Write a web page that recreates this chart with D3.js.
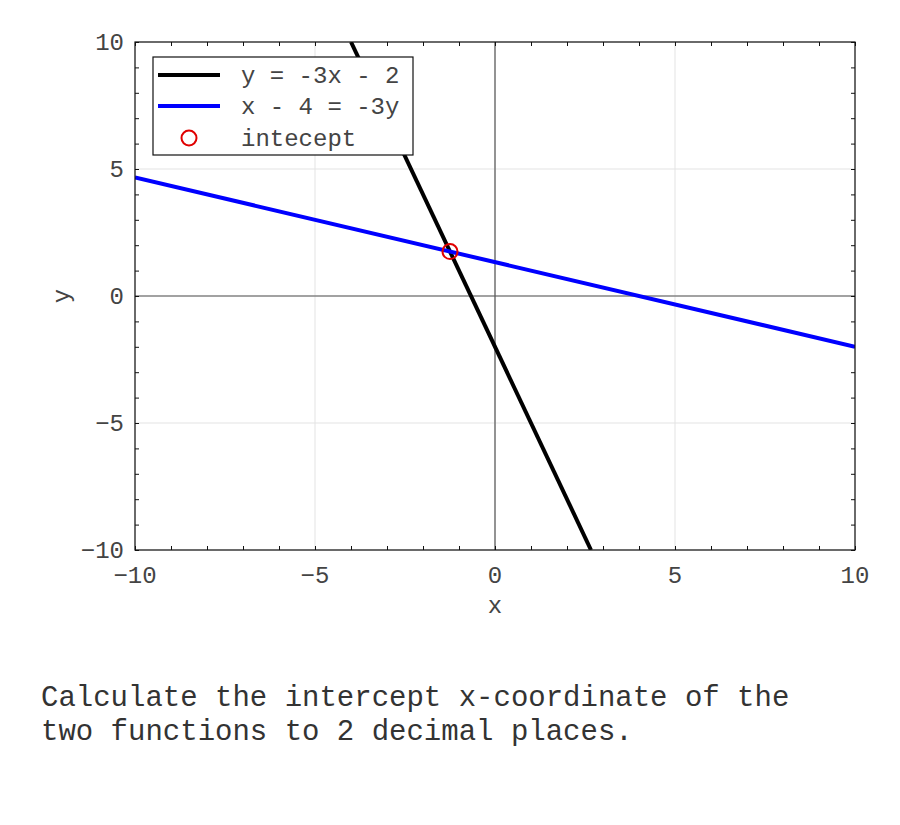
<!DOCTYPE html>
<html><head><meta charset="utf-8">
<script src="https://cdn.jsdelivr.net/npm/d3@7"></script>
<style>body{margin:0;background:#fff}svg{display:block}</style>
</head><body>
<script>
const blackX = [-4, 2.6667];
const blackY = [10, -10];
const blueX = [-10, 10];
const blueY = [4.6667, -2];
const interceptX = [-1.25];
const interceptY = [1.75];
const majorTicks = [-10, -5, 0, 5, 10];
const minorTicks = d3.range(-10, 11, 1);
const legendLabels = ["y = -3x - 2", "x - 4 = -3y", "intecept"];
const questionLines = ["Calculate the intercept x-coordinate of the", "two functions to 2 decimal places."];

const W = 900, H = 825;
const m = {l: 135, r: 855, t: 42, b: 550};
const font = "'Liberation Mono','Courier New',monospace";
const txt = "#444";
const svg = d3.select("body").append("svg").attr("width", W).attr("height", H);
const x = d3.scaleLinear().domain([-10, 10]).range([m.l, m.r]);
const y = d3.scaleLinear().domain([-10, 10]).range([m.b, m.t]);

// grid
svg.append("g").selectAll("line").data(majorTicks).join("line")
  .attr("x1", d => x(d)).attr("x2", d => x(d)).attr("y1", m.t).attr("y2", m.b)
  .attr("stroke", "#e3e3e3").attr("stroke-width", 1);
svg.append("g").selectAll("line").data(majorTicks).join("line")
  .attr("y1", d => y(d)).attr("y2", d => y(d)).attr("x1", m.l).attr("x2", m.r)
  .attr("stroke", "#e3e3e3").attr("stroke-width", 1);

// zero axes
svg.append("line").attr("x1", x(0)).attr("x2", x(0)).attr("y1", m.t).attr("y2", m.b)
  .attr("stroke", "#555").attr("stroke-width", 1.2);
svg.append("line").attr("y1", y(0)).attr("y2", y(0)).attr("x1", m.l).attr("x2", m.r)
  .attr("stroke", "#555").attr("stroke-width", 1.2);

// axes with inward ticks
const tl = 4;
svg.append("g").attr("transform", `translate(0,${m.b})`)
  .call(d3.axisBottom(x).tickValues(minorTicks).tickSize(-tl).tickFormat(""))
  .call(g => g.select(".domain").remove());
svg.append("g").attr("transform", `translate(0,${m.t})`)
  .call(d3.axisTop(x).tickValues(minorTicks).tickSize(-tl).tickFormat(""))
  .call(g => g.select(".domain").remove());
svg.append("g").attr("transform", `translate(${m.l},0)`)
  .call(d3.axisLeft(y).tickValues(minorTicks).tickSize(-tl).tickFormat(""))
  .call(g => g.select(".domain").remove());
svg.append("g").attr("transform", `translate(${m.r},0)`)
  .call(d3.axisRight(y).tickValues(minorTicks).tickSize(-tl).tickFormat(""))
  .call(g => g.select(".domain").remove());
svg.selectAll(".tick line").attr("stroke", "#111").attr("stroke-width", 1);

// tick labels
const fmt = d => d < 0 ? "\u2212" + Math.abs(d) : String(d);
svg.append("g").selectAll("text").data(majorTicks).join("text")
  .attr("x", d => x(d)).attr("y", 583).attr("text-anchor", "middle")
  .attr("font-family", font).attr("font-size", 24).attr("fill", txt)
  .text(fmt);
svg.append("g").selectAll("text").data(majorTicks).join("text")
  .attr("x", 124).attr("y", d => y(d) + 8).attr("text-anchor", "end")
  .attr("font-family", font).attr("font-size", 24).attr("fill", txt)
  .text(fmt);

// axis labels
svg.append("text").attr("x", x(0)).attr("y", 613).attr("text-anchor", "middle")
  .attr("font-family", font).attr("font-size", 24).attr("fill", txt).text("x");
svg.append("text").attr("transform", `translate(69,${y(0)}) rotate(-90)`).attr("text-anchor", "middle")
  .attr("font-family", font).attr("font-size", 24).attr("fill", txt).text("y");

// clip
svg.append("clipPath").attr("id", "clip").append("rect")
  .attr("x", m.l).attr("y", m.t).attr("width", m.r - m.l).attr("height", m.b - m.t);
const line = d3.line().x(d => x(d[0])).y(d => y(d[1]));
const plot = svg.append("g").attr("clip-path", "url(#clip)");
plot.append("path").datum(d3.zip(blackX, blackY)).attr("d", line)
  .attr("fill", "none").attr("stroke", "#000").attr("stroke-width", 4);
plot.append("path").datum(d3.zip(blueX, blueY)).attr("d", line)
  .attr("fill", "none").attr("stroke", "#0000ff").attr("stroke-width", 4);
plot.selectAll("circle").data(d3.zip(interceptX, interceptY)).join("circle")
  .attr("cx", d => x(d[0])).attr("cy", d => y(d[1])).attr("r", 7.5)
  .attr("fill", "none").attr("stroke", "#e00000").attr("stroke-width", 2);

// frame
svg.append("rect").attr("x", m.l).attr("y", m.t).attr("width", m.r - m.l).attr("height", m.b - m.t)
  .attr("fill", "none").attr("stroke", "#111").attr("stroke-width", 1.2);

// legend
const lg = svg.append("g");
lg.append("rect").attr("x", 153).attr("y", 57).attr("width", 260).attr("height", 98)
  .attr("fill", "#fff").attr("stroke", "#111").attr("stroke-width", 1.2);
const rows = [75, 106, 138];
lg.append("line").attr("x1", 158).attr("x2", 220).attr("y1", rows[0]).attr("y2", rows[0])
  .attr("stroke", "#000").attr("stroke-width", 4);
lg.append("line").attr("x1", 158).attr("x2", 220).attr("y1", rows[1]).attr("y2", rows[1])
  .attr("stroke", "#0000ff").attr("stroke-width", 4);
lg.append("circle").attr("cx", 189).attr("cy", rows[2]).attr("r", 7.5)
  .attr("fill", "none").attr("stroke", "#e00000").attr("stroke-width", 2);
lg.selectAll("text").data(legendLabels).join("text")
  .attr("x", 241).attr("y", (d, i) => rows[i] + 8)
  .attr("font-family", font).attr("font-size", 24).attr("fill", txt)
  .text(d => d);

// question
svg.append("g").selectAll("text").data(questionLines).join("text")
  .attr("x", 41).attr("y", (d, i) => 706 + i * 34)
  .attr("font-family", font).attr("font-size", 29).attr("fill", "#333")
  .attr("xml:space", "preserve")
  .text(d => d);
</script>
</body></html>
